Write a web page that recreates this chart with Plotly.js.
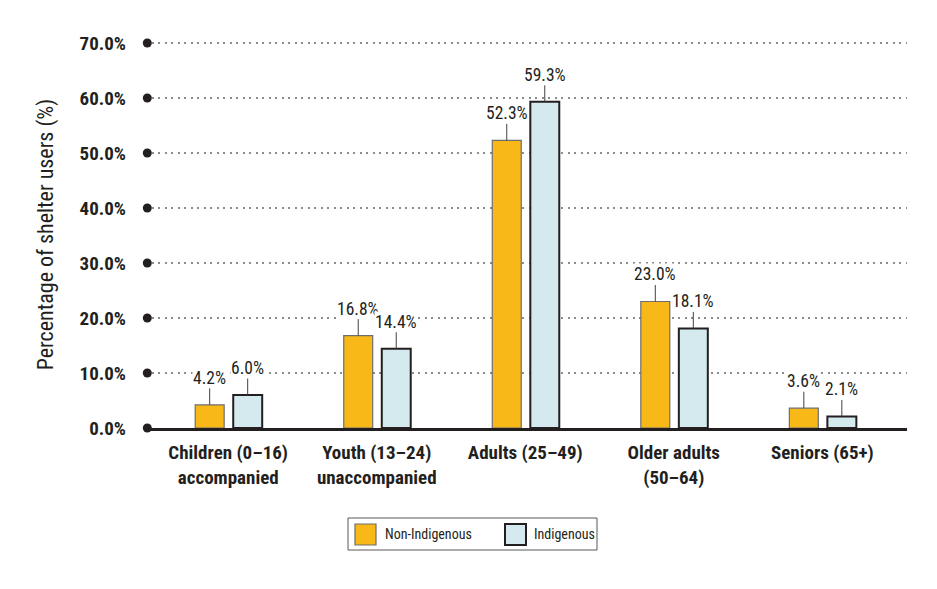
<!DOCTYPE html>
<html>
<head>
<meta charset="utf-8">
<script src="https://cdn.plot.ly/plotly-3.0.1.min.js"></script>
<style>html,body{margin:0;padding:0;background:#fff;}#chart{width:937px;height:589px;}</style>
</head>
<body>
<div id="chart"></div>
<script>
const categories = ["Children (0–16)<br>accompanied", "Youth (13–24)<br>unaccompanied", "Adults (25–49)", "Older adults<br>(50–64)", "Seniors (65+)"];
const nonIndigenous = [4.2, 16.8, 52.3, 23.0, 3.6];
const indigenous = [6.0, 14.4, 59.3, 18.1, 2.1];
const tickValues = [0, 10, 20, 30, 40, 50, 60, 70];
const tickLabels = ["0.0%", "10.0%", "20.0%", "30.0%", "40.0%", "50.0%", "60.0%", "70.0%"];
const seriesNames = ["Non-Indigenous", "Indigenous"];

const FONT = "'Roboto Condensed', 'Liberation Sans Narrow', 'DejaVu Sans Condensed', sans-serif";
const TXT = "#231f20";
const ORANGE = "#F8B817";
const BLUE = "#D4EAEE";

const traces = [
  {
    type: "bar", name: seriesNames[0], x: categories, y: nonIndigenous,
    width: 0.195, offset: -0.222,
    marker: {color: ORANGE, line: {color: "#6d6e71", width: 1.2}},
    hoverinfo: "skip", showlegend: false
  },
  {
    type: "bar", name: seriesNames[1], x: categories, y: indigenous,
    width: 0.195, offset: 0.034,
    marker: {color: BLUE, line: {color: TXT, width: 2}},
    hoverinfo: "skip", showlegend: false
  },
  {
    type: "scatter", mode: "markers", xaxis: "x2", yaxis: "y",
    x: tickValues.map(() => 0.003), y: tickValues,
    marker: {color: TXT, size: 9}, cliponaxis: false,
    showlegend: false, hoverinfo: "skip"
  }
];

// plot-area geometry helpers for the hand-drawn legend box
const PL = 145, PW = 762, PB = 428, PH = 387;
const fx = px => (px - PL) / PW;
const fy = py => (PB - py) / PH;

const annotations = [];
categories.forEach((c, i) => {
  [[nonIndigenous, -18.5], [indigenous, 19.5]].forEach(([arr, sh]) => {
    annotations.push({
      x: c, y: arr[i], xref: "x", yref: "y", xshift: sh,
      text: arr[i].toFixed(1) + "%", showarrow: true, arrowhead: 0,
      arrowwidth: 1, arrowcolor: "#414042", ax: 0, ay: -27,
      bgcolor: "#ffffff", borderpad: 0,
      font: {family: FONT, size: 17.5, color: TXT}
    });
  });
});
annotations.push({xref: "paper", yref: "paper", x: fx(383), y: fy(534), xanchor: "left", yanchor: "middle",
  showarrow: false, text: seriesNames[0], font: {family: FONT, size: 14, color: TXT}});
annotations.push({xref: "paper", yref: "paper", x: fx(532), y: fy(534), xanchor: "left", yanchor: "middle",
  showarrow: false, text: seriesNames[1], font: {family: FONT, size: 14, color: TXT}});

const shapes = [
  {type: "rect", xref: "paper", yref: "paper", x0: fx(348), x1: fx(597), y0: fy(518), y1: fy(550),
   line: {color: "#58595b", width: 1}, fillcolor: "rgba(0,0,0,0)"},
  {type: "rect", xref: "paper", yref: "paper", x0: fx(355), x1: fx(376), y0: fy(524), y1: fy(545),
   line: {color: "#6d6e71", width: 1.2}, fillcolor: ORANGE},
  {type: "rect", xref: "paper", yref: "paper", x0: fx(505), x1: fx(526), y0: fy(524), y1: fy(545),
   line: {color: TXT, width: 2}, fillcolor: BLUE}
];

const layout = {
  width: 937, height: 589,
  margin: {l: PL, r: 937 - PL - PW, t: PB - PH, b: 589 - PB},
  paper_bgcolor: "#fff", plot_bgcolor: "#fff",
  font: {family: FONT, color: TXT},
  barmode: "group",
  showlegend: false,
  xaxis: {
    type: "category", range: [-0.56, 4.57],
    showline: true, linecolor: TXT, linewidth: 2.5,
    showgrid: false, zeroline: false, ticks: "", ticklabelstandoff: 6,
    tickfont: {family: FONT, size: 19, color: TXT, weight: "bold"},
    fixedrange: true
  },
  xaxis2: {overlaying: "x", range: [0, 1], visible: false, fixedrange: true},
  yaxis: {
    range: [0, 70.36], tickmode: "array", tickvals: tickValues, ticktext: tickLabels,
    showgrid: true, gridcolor: "#8a8c8e", griddash: "2px,4.5px", gridwidth: 2,
    zeroline: false, showline: false, ticks: "", ticklabelstandoff: 18,
    tickfont: {family: FONT, size: 19, color: TXT, weight: "bold"},
    title: {text: "Percentage of shelter users (%)", standoff: 19,
            font: {family: FONT, size: 22, color: TXT}},
    fixedrange: true
  },
  shapes: shapes,
  annotations: annotations
};

Plotly.newPlot("chart", traces, layout, {displayModeBar: false, staticPlot: true});
</script>
</body>
</html>
